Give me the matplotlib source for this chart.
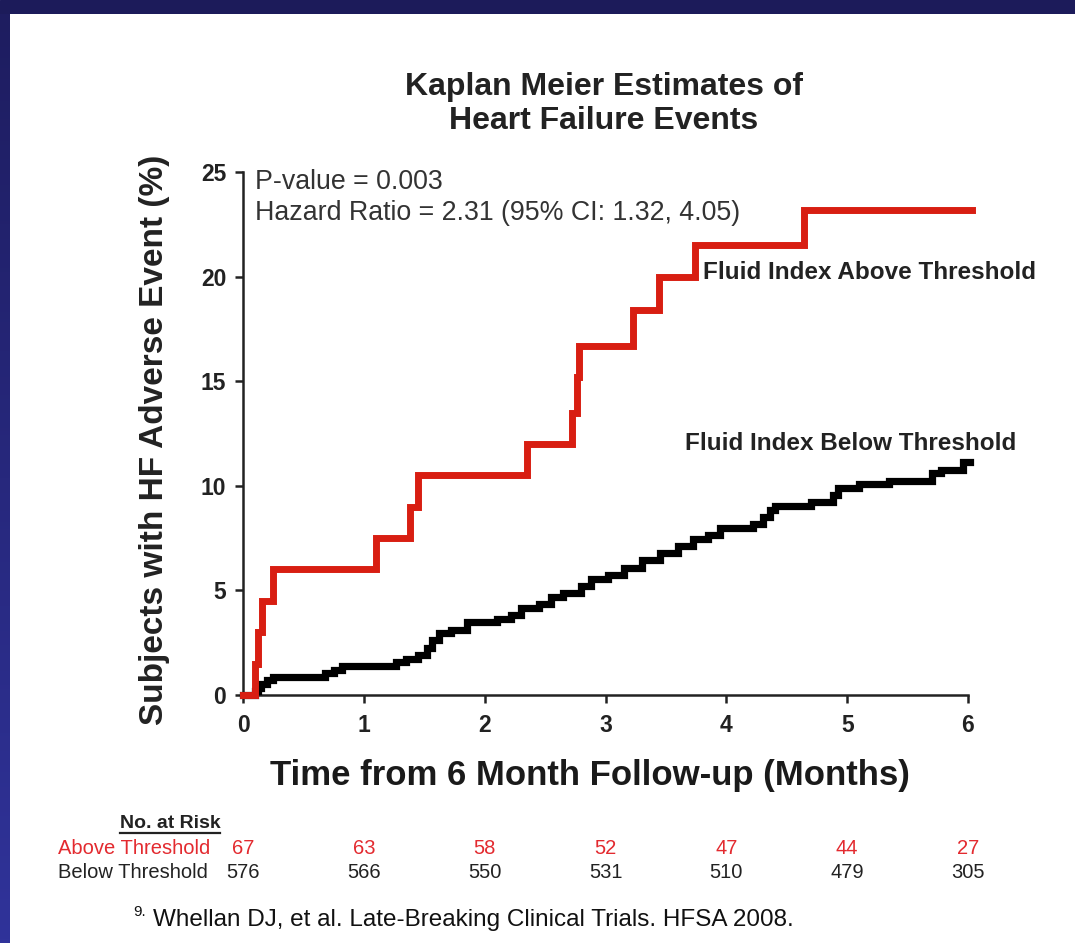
import matplotlib
matplotlib.use("Agg")
import matplotlib.pyplot as plt
import numpy as np
from matplotlib import font_manager
from matplotlib.transforms import blended_transform_factory
from matplotlib.lines import Line2D

# Kaplan-Meier step data (months, cumulative % with event)
above_t = [0.0, 0.10, 0.12, 0.155, 0.25, 1.10, 1.38, 1.45, 2.35, 2.72, 2.76, 2.78, 3.23, 3.44, 3.74, 4.64]
above_y = [0.0, 1.5, 3.0, 4.5, 6.0, 7.5, 9.0, 10.5, 12.0, 13.5, 15.2, 16.7, 18.4, 20.0, 21.5, 23.2]
above_end = 6.03

below_t = [0.0, 0.10, 0.12, 0.15, 0.20, 0.25, 0.68, 0.75, 0.82, 1.27, 1.35, 1.45, 1.52, 1.56, 1.62,
           1.72, 1.85, 2.10, 2.22, 2.30, 2.45, 2.55, 2.65, 2.80, 2.88, 3.02, 3.15, 3.30, 3.45,
           3.60, 3.72, 3.85, 3.95, 4.22, 4.30, 4.36, 4.40, 4.70, 4.88, 4.92, 5.10, 5.35, 5.70,
           5.78, 5.96]
below_y = [0.0, 0.17, 0.35, 0.52, 0.70, 0.87, 1.04, 1.21, 1.39, 1.56, 1.74, 1.91, 2.26, 2.61, 2.95,
           3.13, 3.47, 3.65, 3.82, 4.17, 4.34, 4.69, 4.86, 5.21, 5.56, 5.74, 6.09, 6.43, 6.78,
           7.12, 7.47, 7.64, 7.99, 8.16, 8.51, 8.86, 9.03, 9.21, 9.56, 9.90, 10.08, 10.25, 10.60,
           10.77, 11.12]
below_end = 6.02

risk_months = [0, 1, 2, 3, 4, 5, 6]
risk_above = [67, 63, 58, 52, 47, 44, 27]
risk_below = [576, 566, 550, 531, 510, 479, 305]

RED = "#d81e12"
RED_TXT = "#e32a2f"

W, H = 1075, 943
installed = {f.name for f in font_manager.fontManager.ttflist}
SANS = "Liberation Sans"
NARROW = "Liberation Sans Narrow" if "Liberation Sans Narrow" in installed else SANS
plt.rcParams["font.family"] = [SANS, "DejaVu Sans"]


def px(x, y):
    return x / W, 1 - y / H


fig = plt.figure(figsize=(W / 100, H / 100), dpi=100)
fig.patch.set_facecolor("white")

# slide frame: dark top band and a left band fading to blue
top = fig.add_axes([0, 1 - 14 / H, 1, 14 / H])
top.set_axis_off()
top.add_patch(plt.Rectangle((0, 0), 1, 1, color="#1c1b5a", transform=top.transAxes))
left = fig.add_axes([0, 0, 10 / W, 1 - 14 / H])
left.imshow(np.linspace(0, 1, 256).reshape(-1, 1), aspect="auto",
            cmap=matplotlib.colors.LinearSegmentedColormap.from_list("edge", ["#1e1d60", "#30339a"]),
            extent=[0, 1, 0, 1])
left.set_axis_off()

x0, y0 = px(243, 695)
x1, y1 = px(968, 172)
ax = fig.add_axes([x0, y0, x1 - x0, y1 - y0])

ax.step(below_t + [below_end], below_y + [below_y[-1]], where="post",
        color="black", lw=5.2, clip_on=False, zorder=3, solid_joinstyle="miter")
ax.step(above_t + [above_end], above_y + [above_y[-1]], where="post",
        color=RED, lw=5.0, clip_on=False, zorder=4, solid_joinstyle="miter")

ax.set_xlim(0, 6)
ax.set_ylim(0, 25)
ax.set_xticks(range(7))
ax.set_yticks([0, 5, 10, 15, 20, 25])
for side in ("top", "right"):
    ax.spines[side].set_visible(False)
for side in ("left", "bottom"):
    ax.spines[side].set_linewidth(1.8)
    ax.spines[side].set_color("#222222")
ax.tick_params(axis="both", length=6, width=1.8, color="#222222", direction="out")
ax.tick_params(axis="x", pad=8)
ax.tick_params(axis="y", pad=6)
for lab in ax.get_xticklabels() + ax.get_yticklabels():
    lab.set_fontweight("bold")
    lab.set_fontsize(16.5)
    lab.set_color("#222222")

ax.text(0.1, 24.5, "P-value = 0.003", fontsize=19.3, va="center", color="#333333")
ax.text(0.1, 23.05, "Hazard Ratio = 2.31 (95% CI: 1.32, 4.05)", fontsize=19.3, va="center", color="#333333")
ax.text(3.807, 20.2, "Fluid Index Above Threshold", fontsize=17.5, fontweight="bold", va="center", color="#222222")
ax.text(3.658, 12.0, "Fluid Index Below Threshold", fontsize=17.5, fontweight="bold", va="center", color="#222222")

fig.text(*px(604, 104), "Kaplan Meier Estimates of\nHeart Failure Events", ha="center", va="center",
         fontsize=23, fontweight="bold", color="#222222", linespacing=1.2)
fig.text(*px(155, 440), "Subjects with HF Adverse Event (%)", rotation=90, ha="center", va="center",
         fontsize=24, fontweight="bold", color="#222222")
fig.text(*px(590, 775), "Time from 6 Month Follow-up (Months)", ha="center", va="center",
         fontsize=29 if NARROW != SANS else 25, fontweight="bold", family=[NARROW, "DejaVu Sans"],
         color="#1a1a1a")

# number at risk table
risk_tf = blended_transform_factory(ax.transData, fig.transFigure)
head = fig.text(*px(170, 823), "No. at Risk", ha="center", va="center", fontsize=14,
                fontweight="bold", color="#222222")
fig.text(*px(58, 848), "Above Threshold", ha="left", va="center", fontsize=14.5, color=RED_TXT)
fig.text(*px(58, 873), "Below Threshold", ha="left", va="center", fontsize=14.5, color="#222222")
for m, a, b in zip(risk_months, risk_above, risk_below):
    ax.text(m, px(0, 848)[1], str(a), transform=risk_tf, ha="center", va="center",
            fontsize=14.5, color=RED_TXT, clip_on=False)
    ax.text(m, px(0, 873)[1], str(b), transform=risk_tf, ha="center", va="center",
            fontsize=14.5, color="#222222", clip_on=False)

fig.text(*px(133, 912), "9.", ha="left", va="center", fontsize=11, color="#111111")
fig.text(*px(153, 920), "Whellan DJ, et al. Late-Breaking Clinical Trials. HFSA 2008.", ha="left",
         va="center", fontsize=17.5, color="#111111")

# underline for the table heading
fig.canvas.draw()
bb = head.get_window_extent().transformed(fig.transFigure.inverted())
fig.add_artist(Line2D([bb.x0, bb.x1], [bb.y0 - 0.002, bb.y0 - 0.002], color="#222222", lw=1.6,
                      transform=fig.transFigure))

fig.savefig("out.png", dpi=100)
